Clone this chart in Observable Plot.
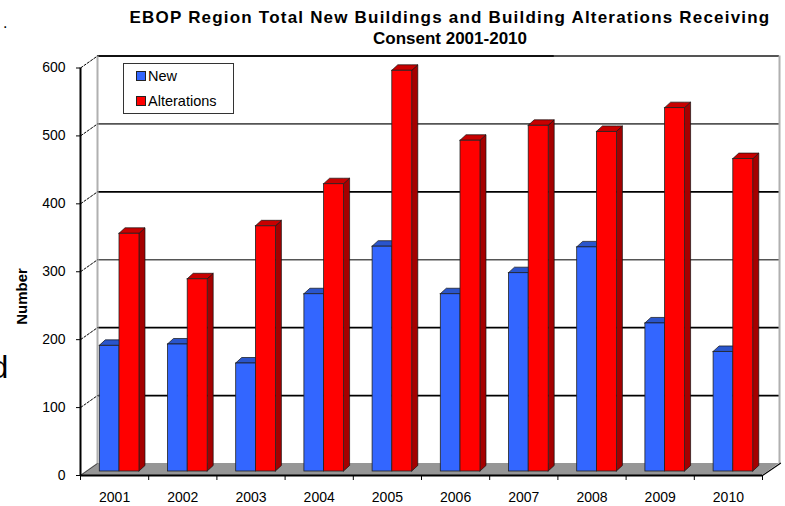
<!DOCTYPE html>
<html>
<head>
<meta charset="utf-8">
<script src="https://cdn.jsdelivr.net/npm/d3@7"></script>
<script src="https://cdn.jsdelivr.net/npm/@observablehq/plot@0.6"></script>
<style>
  html, body { margin: 0; padding: 0; background: #fff; }
  #wrap { position: relative; width: 785px; height: 506px; font-family: "Liberation Sans", Arial, sans-serif; overflow: hidden; }
  #title { position: absolute; left: 60px; width: 780px; top: 7px; text-align: center; font-weight: bold; font-size: 17px; line-height: 21px; color: #000; white-space: nowrap; }
  #title .l1 { letter-spacing: 1.2px; }
  #legend { position: absolute; left: 123px; top: 63px; width: 109px; height: 49px; border: 1px solid #333; background: #fff; font-size: 14.5px; }
  .item { position: absolute; left: 12px; height: 16px; line-height: 16px; white-space: nowrap; }
  .sw { display: inline-block; width: 8px; height: 8px; border: 1px solid #222; vertical-align: middle; margin-right: 2px; position: relative; top: -1px; }
  .stray { position: absolute; font-family: "Liberation Sans", Arial, sans-serif; color: #000; }
  svg { position: absolute; left: 0; top: 0; }
</style>
</head>
<body>
<div id="wrap">
  <div id="chart"></div>
  <div id="title"><span class="l1">EBOP Region Total New Buildings and Building Alterations Receiving</span><br><span>Consent 2001-2010</span></div>
  <div id="legend">
    <div class="item" style="top:4px"><span class="sw" style="background:#3366FF"></span>New</div>
    <div class="item" style="top:29px"><span class="sw" style="background:#FF0000"></span>Alterations</div>
  </div>
  <div class="stray" style="left:3px; top:14px; font-size:16px;">.</div>
  <div class="stray" style="left:-9px; top:350px; font-size:31px; line-height:36px;">d</div>
</div>
<script>
// ---- data ----
const years = ["2001","2002","2003","2004","2005","2006","2007","2008","2009","2010"];
const newBuildings = [185, 187, 159, 261, 331, 261, 292, 330, 218, 176];
const alterations  = [350, 283, 361, 423, 590, 487, 509, 500, 535, 460];
const yTicks = [0, 100, 200, 300, 400, 500, 600];

// ---- layout constants ----
const W = 785, H = 506, ML = 80, MR = 23, MT = 67.5, MB = 31;
const KX = (W - ML - MR) / years.length;   // px per x unit
const KY = (H - MT - MB) / 600;             // px per y unit
const WALL_DX = 17, WALL_DY = 12;            // back wall offset (px)
const BAR_LIFT = 4;                          // bars sit slightly behind the front edge
const SIDE_DX = 6, SIDE_DY = 5.5;            // bar depth (px)
const wx = WALL_DX / KX, wy = WALL_DY / KY;
const sx = SIDE_DX / KX, sy = SIDE_DY / KY;
const NEW_L = 0.283, MID = 0.572, ALT_R = 0.865;

const rows = years.map((yr, i) => ({i, yr, nv: newBuildings[i], av: alterations[i]}));

function topFace(id, xl, xr, v) {
  return [
    {id, x: xl, y1: v, y2: v},
    {id, x: xl + sx, y1: v, y2: v + sy},
    {id, x: xr, y1: v, y2: v + sy},
    {id, x: xr + sx, y1: v + sy, y2: v + sy}
  ];
}
function sideFace(id, xr, v) {
  return [
    {id, x: xr, y1: 0, y2: v},
    {id, x: xr + sx, y1: sy, y2: v + sy}
  ];
}
const newTops = rows.flatMap(r => topFace("n" + r.i, r.i + NEW_L, r.i + MID, r.nv));
const altTops = rows.flatMap(r => topFace("a" + r.i, r.i + MID, r.i + ALT_R, r.av));
const altSides = rows.flatMap(r => sideFace("a" + r.i, r.i + ALT_R, r.av));
const n = years.length;
const floor = [
  {x: 0, y1: 0, y2: 0},
  {x: wx, y1: 0, y2: wy},
  {x: n, y1: 0, y2: wy},
  {x: n + wx, y1: wy, y2: wy}
];
// y position (data units) of the centre of the rotated axis title
const yLabelPos = (H - MB - 296) / KY;

const plot = Plot.plot({
  width: W, height: H,
  marginLeft: ML, marginRight: MR, marginTop: MT, marginBottom: MB,
  style: {fontFamily: "Liberation Sans, Arial, sans-serif", background: "transparent", overflow: "visible"},
  x: {type: "linear", domain: [0, n], axis: null},
  y: {type: "linear", domain: [0, 600], axis: null},
  marks: [
    // floor
    Plot.area(floor, {x1: "x", y1: "y1", y2: "y2", fill: "#969696"}),
    // back wall gridlines
    Plot.ruleY(yTicks.filter(t => t > 0 && t < 600), {x1: 0, x2: n, dx: WALL_DX, dy: -WALL_DY,
      stroke: t => (t % 200 === 0 || t === 100) ? "#000" : "#555", strokeWidth: 1.6}),
    // wall top border
    Plot.ruleY([600], {x1: 0, x2: 6.7, dx: WALL_DX, dy: -WALL_DY, stroke: "#111", strokeWidth: 2}),
    Plot.ruleY([600], {x1: 6.7, x2: n, dx: WALL_DX, dy: -WALL_DY, stroke: "#555", strokeWidth: 2}),
    // wall side edges
    Plot.ruleX([0, n], {y1: 0, y2: 600, dx: WALL_DX, dy: -WALL_DY, stroke: "#b0b0b0", strokeWidth: 2}),
    // connectors from axis ticks to wall
    Plot.link(yTicks.filter(t => t > 0), {x1: 0, x2: wx, y1: d => d, y2: d => d + wy, stroke: "#000", strokeWidth: 1, strokeDasharray: "3,1"}),
    // floor edges
    Plot.link([0], {x1: n, x2: n + wx + 0.02, y1: 0, y2: wy + 0.6, stroke: "#000", strokeWidth: 1.2}),
    Plot.link([0], {x1: 0, x2: wx, y1: 0, y2: wy, stroke: "#333", strokeWidth: 0.8}),
    // New bars
    Plot.area(newTops, {x1: "x", y1: "y1", y2: "y2", z: "id", fill: "#2A55CC", stroke: "#111", strokeWidth: 0.7, dy: -BAR_LIFT}),
    Plot.rect(rows, {x1: r => r.i + NEW_L, x2: r => r.i + MID, y1: 0, y2: "nv", dy: -BAR_LIFT, fill: "#3366FF", stroke: "#222", strokeWidth: 0.8}),
    // Alterations bars
    Plot.area(altSides, {x1: "x", y1: "y1", y2: "y2", z: "id", fill: "#A50000", stroke: "#111", strokeWidth: 0.7, dy: -BAR_LIFT}),
    Plot.area(altTops, {x1: "x", y1: "y1", y2: "y2", z: "id", fill: "#C80000", stroke: "#111", strokeWidth: 0.7, dy: -BAR_LIFT}),
    Plot.rect(rows, {x1: r => r.i + MID, x2: r => r.i + ALT_R, y1: 0, y2: "av", dy: -BAR_LIFT, fill: "#FF0000", stroke: "#222", strokeWidth: 0.8}),
    // axes lines
    Plot.ruleX([0], {y1: 0, y2: 600, stroke: "#000", strokeWidth: 2}),
    Plot.ruleY([0], {x1: 0, x2: n, stroke: "#000", strokeWidth: 2}),
    // y axis ticks and labels
    Plot.axisY(yTicks, {tickSize: 4, tickPadding: 11, fontSize: 14, label: null, tickFormat: d => String(d)}),
    // x axis ticks at category boundaries
    Plot.axisX(d3.range(n + 1), {tickSize: 5, tickFormat: () => "", label: null}),
    // x labels at category centres
    Plot.axisX(years.map((_, i) => i + 0.5), {tickSize: 0, tickPadding: 17, fontSize: 14, label: null,
      tickFormat: d => years[Math.floor(d)]}),
    // y label
    Plot.text(["Number"], {frameAnchor: "left", dx: -58, y: () => yLabelPos, rotate: -90, textAnchor: "middle", fontWeight: "bold", fontSize: 15, fill: "#000"})
  ]
});
document.getElementById("chart").appendChild(plot);
</script>
</body>
</html>
